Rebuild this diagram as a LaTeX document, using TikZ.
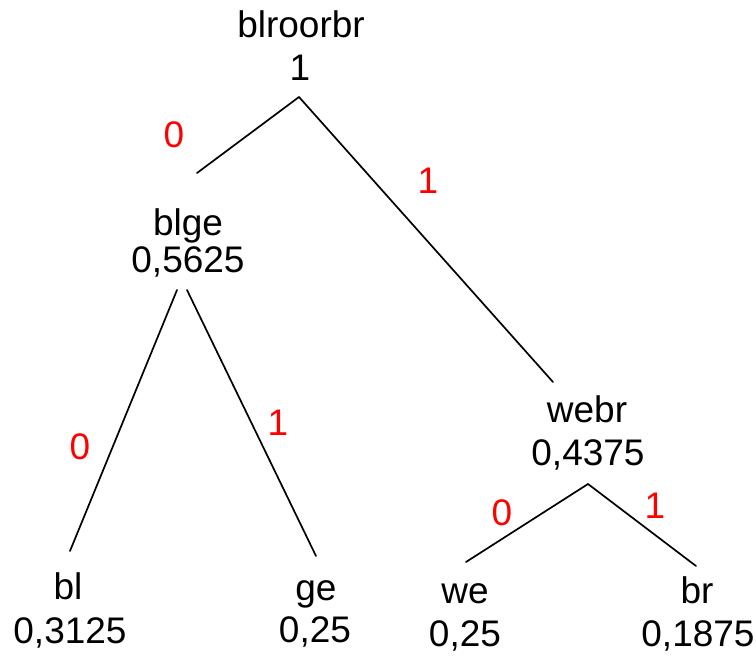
\documentclass[tikz,border=0pt]{standalone}
\usepackage{fontspec}
\setmainfont{Liberation Sans}
\begin{document}
\begin{tikzpicture}[x=1pt,y=-1pt,
  lbl/.style={inner sep=0pt,anchor=base,font=\fontsize{37}{41}\selectfont},
  bit/.style={lbl,text=red},
  edge/.style={line width=1.7pt,line cap=round}]
\useasboundingbox (0,0) rectangle (756,656);
% labels
\node[lbl] (rootn) at (301,37) {blroorbr};
\node[lbl] (rootv) at (300,80) {1};
\node[lbl] (blgen) at (188,235) {blge};
\node[lbl] (blgev) at (188,272) {0,5625};
\node[lbl] (webrn) at (587,422) {webr};
\node[lbl] (webrv) at (588,465) {0,4375};
\node[lbl] (bln) at (68,599) {bl};
\node[lbl] (blv) at (70,643) {0,3125};
\node[lbl] (gen) at (316,600) {ge};
\node[lbl] (gev) at (315,642) {0,25};
\node[lbl] (wen) at (465,603) {we};
\node[lbl] (wev) at (465,646) {0,25};
\node[lbl] (brn) at (697,603) {br};
\node[lbl] (brv) at (698,646) {0,1875};
% bit labels
\node[bit] (b1) at (174,147) {0};
\node[bit] (b2) at (428,193) {1};
\node[bit] (b3) at (80,459) {0};
\node[bit] (b4) at (278,435) {1};
\node[bit] (b5) at (502,525) {0};
\node[bit] (b6) at (655,518) {1};
% edge end points
\coordinate (rtop) at (299,97);
\coordinate (blgeT) at (197,173);
\coordinate (webrT) at (553,382);
\coordinate (blgeL) at (177,290);
\coordinate (blgeR) at (187,290);
\coordinate (blT) at (70,551);
\coordinate (geT) at (316,556);
\coordinate (webrB) at (588,484);
\coordinate (weT) at (466,562);
\coordinate (brT) at (696,566);
% edges
\draw[edge] (blgeT) -- (rtop) -- (webrT);
\draw[edge] (blgeL) -- (blT);
\draw[edge] (blgeR) -- (geT);
\draw[edge] (weT) -- (webrB) -- (brT);
\end{tikzpicture}
\end{document}
